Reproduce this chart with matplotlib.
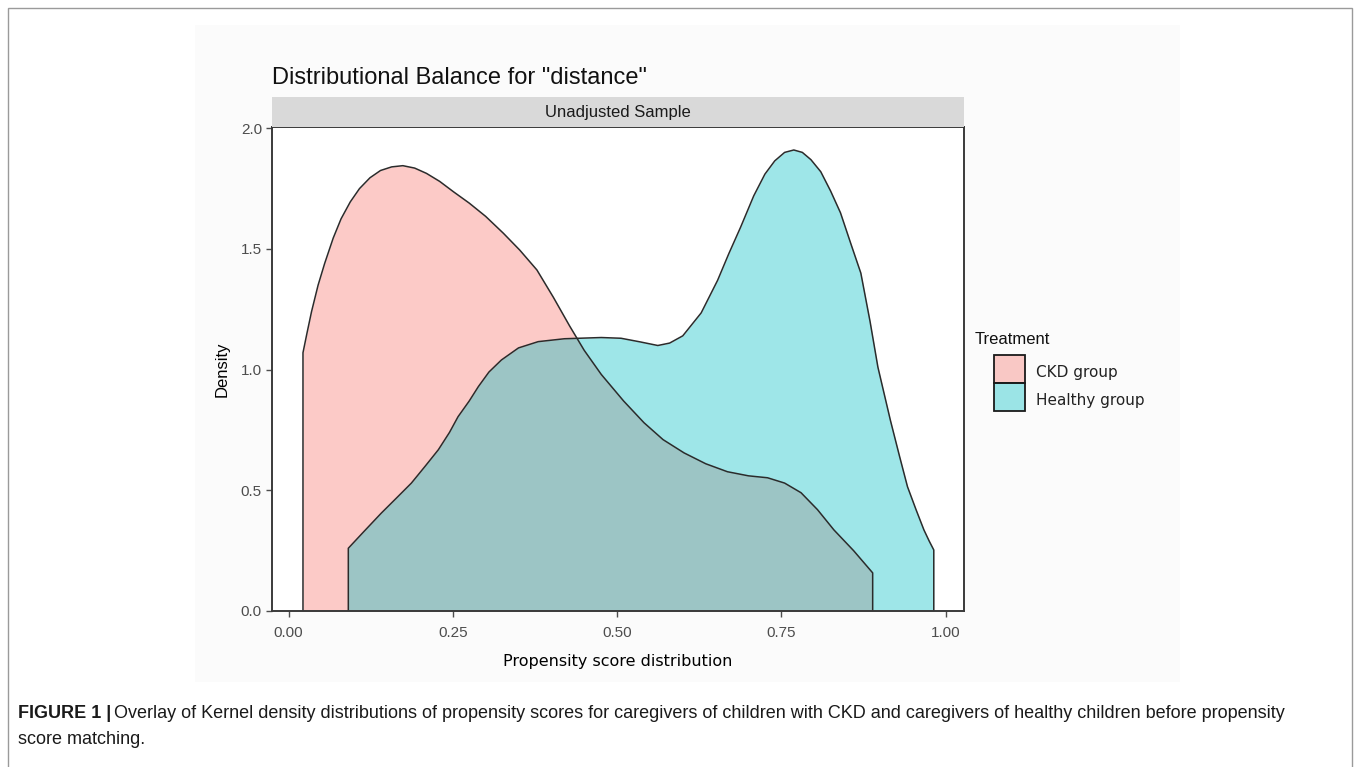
import matplotlib
matplotlib.use("Agg")
import matplotlib.pyplot as plt
from matplotlib.patches import Rectangle

# density outlines
ckd_x = [0.022, 0.028, 0.035, 0.045, 0.055, 0.068, 0.080, 0.094, 0.108, 0.124,
         0.140, 0.157, 0.174, 0.192, 0.210, 0.230, 0.251, 0.275, 0.300, 0.327,
         0.352, 0.378, 0.403, 0.428, 0.450, 0.476, 0.510, 0.541, 0.570, 0.602,
         0.635, 0.668, 0.700, 0.729, 0.755, 0.780, 0.805, 0.830, 0.860, 0.889]
ckd_y = [1.07, 1.15, 1.24, 1.35, 1.44, 1.545, 1.625, 1.695, 1.75, 1.795,
         1.825, 1.84, 1.845, 1.835, 1.813, 1.78, 1.737, 1.69, 1.635, 1.565,
         1.495, 1.413, 1.30, 1.18, 1.08, 0.98, 0.87, 0.78, 0.71, 0.655,
         0.61, 0.577, 0.56, 0.552, 0.53, 0.49, 0.42, 0.336, 0.25, 0.158]

healthy_x = [0.091, 0.115, 0.141, 0.165, 0.187, 0.208, 0.228, 0.245, 0.258, 0.275,
             0.289, 0.305, 0.324, 0.350, 0.380, 0.420, 0.476, 0.506, 0.535, 0.562,
             0.580, 0.600, 0.628, 0.653, 0.670, 0.688, 0.708, 0.725, 0.740, 0.755,
             0.769, 0.782, 0.795, 0.810, 0.825, 0.840, 0.856, 0.871, 0.885, 0.897,
             0.916, 0.930, 0.942, 0.955, 0.967, 0.975, 0.982]
healthy_y = [0.26, 0.33, 0.405, 0.47, 0.53, 0.60, 0.668, 0.74, 0.805, 0.87,
             0.93, 0.99, 1.04, 1.09, 1.116, 1.128, 1.133, 1.13, 1.115, 1.10,
             1.11, 1.14, 1.235, 1.37, 1.48, 1.59, 1.72, 1.81, 1.865, 1.90,
             1.91, 1.90, 1.87, 1.82, 1.74, 1.65, 1.52, 1.40, 1.20, 1.01,
             0.79, 0.64, 0.515, 0.42, 0.336, 0.29, 0.253]

groups = ["CKD group", "Healthy group"]
colors = ["#F8766D", "#00BFC4"]
x_ticks = [0.00, 0.25, 0.50, 0.75, 1.00]
y_ticks = [0.0, 0.5, 1.0, 1.5, 2.0]

W, H = 1360, 767
fig = plt.figure(figsize=(W / 100, H / 100), dpi=100)
fig.patch.set_facecolor("white")

def fx(px):
    return px / W

def fy(py):
    return 1 - py / H

# outer frame and faint screenshot background
fig.patches.append(Rectangle((fx(8), fy(790)), fx(1344), 782 / H,
                             transform=fig.transFigure, fill=False,
                             edgecolor="#9a9a9a", lw=1.0))
fig.patches.append(Rectangle((fx(195), fy(682)), fx(985), (682 - 25) / H,
                             transform=fig.transFigure, facecolor="#fbfbfb",
                             edgecolor="none", zorder=-5))

ax = fig.add_axes([fx(271.7), fy(611), fx(964 - 271.7), (611 - 127.3) / H])
ax.set_facecolor("white")

for xs, ys, c, lab in [(ckd_x, ckd_y, colors[0], groups[0]),
                       (healthy_x, healthy_y, colors[1], groups[1])]:
    ax.fill_between(xs, 0, ys, color=c, alpha=0.38, lw=0, label=lab)
    ax.plot([xs[0]] + xs + [xs[-1]], [0] + ys + [0], color="#2b2b2b", lw=1.1)

ax.set_xlim(-0.0256, 1.028)
ax.set_ylim(0, 2.004)
ax.set_xticks(x_ticks)
ax.set_xticklabels([f"{v:.2f}" for v in x_ticks])
ax.set_yticks(y_ticks)
ax.set_yticklabels([f"{v:.1f}" for v in y_ticks])
ax.tick_params(colors="#4d4d4d", labelsize=11, length=4, width=1.0)
ax.tick_params(axis="x", pad=7)
ax.tick_params(axis="y", pad=3)
for lab in ax.get_xticklabels() + ax.get_yticklabels():
    lab.set_family("Liberation Sans")
for s in ax.spines.values():
    s.set_color("#3a3a3a")
    s.set_linewidth(1.4)

ax.set_xlabel("Propensity score distribution", fontsize=11.5, family="DejaVu Sans",
              labelpad=10)
ax.set_ylabel("Density", fontsize=12, family="Liberation Sans", labelpad=8)

# facet strip
fig.patches.append(Rectangle((fx(271.7), fy(127.3)), fx(964 - 271.7), (127.3 - 97) / H,
                             transform=fig.transFigure, facecolor="#d9d9d9",
                             edgecolor="none"))
fig.text(fx(618), fy(113), "Unadjusted Sample", ha="center", va="center",
         fontsize=12, color="#1a1a1a", family="Liberation Sans")

fig.text(fx(272), fy(78), 'Distributional Balance for "distance"', ha="left",
         va="center", fontsize=17, color="#111111", family="Liberation Sans")

# legend
fig.text(fx(975), fy(339), "Treatment", ha="left", va="center", fontsize=12,
         family="Liberation Sans", color="#111111")
for i, (g, c) in enumerate(zip(groups, colors)):
    top = 355 + i * 28
    fig.patches.append(Rectangle((fx(994), fy(top + 28)), fx(31), 28 / H,
                                 transform=fig.transFigure, facecolor=c, alpha=0.38,
                                 edgecolor="none"))
    fig.patches.append(Rectangle((fx(994), fy(top + 28)), fx(31), 28 / H,
                                 transform=fig.transFigure, fill=False,
                                 edgecolor="#1a1a1a", lw=1.3))
    fig.text(fx(1036), fy(top + 18), g, ha="left", va="center", fontsize=11,
             family="DejaVu Sans", color="#222222")

# caption
cap_font = "Liberation Sans"
t1 = fig.text(fx(18), fy(713), "FIGURE 1 |", ha="left", va="center", fontsize=13,
              weight="bold", family=cap_font, color="#1a1a1a")
fig.canvas.draw()
bb = t1.get_window_extent(fig.canvas.get_renderer())
fig.text(bb.x1 / W + 3 / W, fy(713),
         "Overlay of Kernel density distributions of propensity scores for caregivers "
         "of children with CKD and caregivers of healthy children before propensity",
         ha="left", va="center", fontsize=13, family=cap_font, color="#1a1a1a")
fig.text(fx(18), fy(740), "score matching.", ha="left", va="center", fontsize=13,
         family=cap_font, color="#1a1a1a")

fig.savefig("out.png", dpi=100)
